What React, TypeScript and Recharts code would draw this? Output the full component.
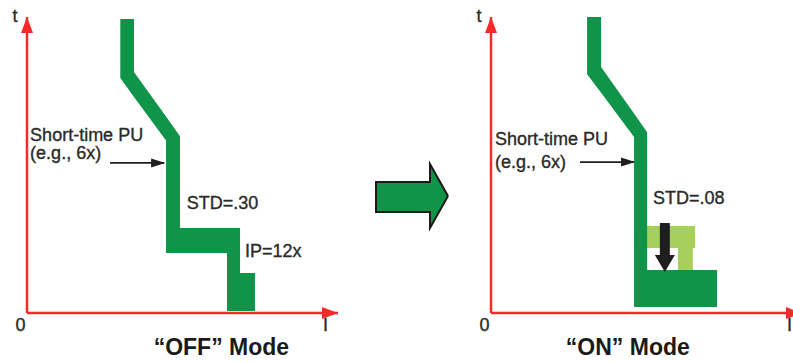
import React from 'react';
import { ComposedChart, Area, Line, Scatter, XAxis, YAxis } from 'recharts';

// ---- data (I = current multiple units, t = time units) ----
const offBand = [
  { I: 30.0, t: [79.4, 99.3] },
  { I: 34.4, t: [73.0, 99.3] },
  { I: 34.4, t: [73.0, 81.4] },
  { I: 44.7, t: [58.3, 66.4] },
  { I: 44.7, t: [20.3, 66.4] },
  { I: 49.2, t: [20.3, 59.7] },
  { I: 49.2, t: [20.3, 28.7] },
  { I: 64.3, t: [20.3, 28.7] },
  { I: 64.3, t: [0.7, 28.7] },
  { I: 68.5, t: [0.7, 28.7] },
  { I: 68.5, t: [0.7, 13.5] },
  { I: 73.3, t: [0.7, 13.5] },
];

const onBand = [
  { I: 30.9, t: [80.7, 100] },
  { I: 35.4, t: [74.4, 100] },
  { I: 35.4, t: [74.4, 83.1] },
  { I: 46.0, t: [59.5, 67.4] },
  { I: 46.0, t: [2.0, 67.4] },
  { I: 50.2, t: [2.0, 61.1] },
  { I: 50.2, t: [2.0, 14.5] },
  { I: 72.7, t: [2.0, 14.5] },
];

const onShiftedBand = [
  { I: 46.0, t: [22.0, 29.4] },
  { I: 60.1, t: [22.0, 29.4] },
  { I: 60.1, t: [14.5, 29.4] },
  { I: 64.9, t: [14.5, 29.4] },
  { I: 64.9, t: [22.0, 29.4] },
  { I: 65.6, t: [22.0, 29.4] },
];

const stdShiftArrow = [
  { I: 55.9, t: 30.4 },
  { I: 55.9, t: 19.6 },
];

const offPuArrow = [
  { I: 26.7, t: 50.7 },
  { I: 44.1, t: 50.7 },
];
const onPuArrow = [
  { I: 28.6, t: 51.0 },
  { I: 46.0, t: 51.0 },
];

const offNotes = [
  { I: 1.0, t: 58.1, text: 'Short-time PU' },
  { I: 1.0, t: 51.9, text: '(e.g., 6x)' },
  { I: 51.4, t: 35.1, text: 'STD=.30' },
  { I: 70.1, t: 18.9, text: 'IP=12x' },
];
const onNotes = [
  { I: 1.3, t: 56.8, text: 'Short-time PU' },
  { I: 1.3, t: 49.0, text: '(e.g., 6x)' },
  { I: 52.1, t: 36.8, text: 'STD=.08' },
];

const xTicks = [0, 100];
const xTickLabels = ['0', 'I'];
const yTicks = [100];
const yTickLabels = ['t'];
const xAxisEnd = [{ I: 100, t: 0 }];
const yAxisEnd = [{ I: 0, t: 100 }];

const offTitle = { text: '\u201COFF\u201D Mode', I: 62.5 };
const onTitle = { text: '\u201CON\u201D Mode', I: 44.0 };

// big transition arrow (x along, v range)
const bigArrow = [
  { x: 0, v: [32, 32] },
  { x: 0, v: [16, 46] },
  { x: 54, v: [16, 46] },
  { x: 54, v: [0, 64] },
  { x: 72, v: [32, 32] },
];

// ---- styles ----
const FONT = '"Liberation Sans", Arial, Helvetica, sans-serif';
const RED = '#f52a2a';
const DARK = '#10944a';
const LIGHT = '#a6d05c';
const INK = '#1e1e1e';
const TEXT = '#2a2a2a';

const NoteShape = (p: any) => (
  <text x={p.cx} y={p.cy} fontSize={18} fill={TEXT} stroke={TEXT} strokeWidth={0.35} fontFamily={FONT}>
    {p.payload.text}
  </text>
);

const RightHead = (p: any) => (
  <path d={`M${p.cx},${p.cy} L${p.cx - 16},${p.cy - 6} L${p.cx - 16},${p.cy + 6} Z`} fill={RED} />
);
const UpHead = (p: any) => (
  <path d={`M${p.cx},${p.cy} L${p.cx - 6},${p.cy + 16} L${p.cx + 6},${p.cy + 16} Z`} fill={RED} />
);

const thinHead = (p: any) =>
  p.index === 1 ? (
    <path key={`h${p.index}`} d={`M${p.cx + 1},${p.cy} L${p.cx - 13},${p.cy - 4.5} L${p.cx - 13},${p.cy + 4.5} Z`} fill={INK} />
  ) : (
    <g key={`h${p.index}`} />
  );

const downHead = (p: any) =>
  p.index === 1 ? (
    <path key={`d${p.index}`} d={`M${p.cx - 10},${p.cy} L${p.cx + 10},${p.cy} L${p.cx},${p.cy + 17} Z`} fill={INK} />
  ) : (
    <g key={`d${p.index}`} />
  );

const XTick = (p: any) => {
  const i = xTicks.indexOf(p.payload.value);
  const dx = i === 0 ? -6.5 : -12.5;
  return (
    <text x={p.x + dx} y={p.y + 18} textAnchor="middle" fontSize={18} fill={TEXT} stroke={TEXT} strokeWidth={0.35} fontFamily={FONT}>
      {xTickLabels[i]}
    </text>
  );
};
const YTick = (p: any) => {
  const i = yTicks.indexOf(p.payload.value);
  return (
    <text x={p.x - 12} y={p.y + 5} textAnchor="middle" fontSize={18} fill={TEXT} stroke={TEXT} strokeWidth={0.35} fontFamily={FONT}>
      {yTickLabels[i]}
    </text>
  );
};

const titleLabel = (title: { text: string; I: number }) => (props: any) => {
  const vb = props.viewBox || {};
  return (
    <text
      x={vb.x + (vb.width * title.I) / 100}
      y={vb.y + 42}
      textAnchor="middle"
      fontSize={23}
      fontWeight="bold"
      fill="#1a1a1a"
      fontFamily={FONT}
    >
      {title.text}
    </text>
  );
};

type PanelProps = {
  width: number;
  marginRight: number;
  band: any[];
  shifted?: any[];
  puArrow: any[];
  drop?: any[];
  notes: any[];
  title: { text: string; I: number };
};

const Panel = ({ width, marginRight, band, shifted, puArrow, drop, notes, title }: PanelProps) => (
  <ComposedChart width={width} height={362} margin={{ top: 17, right: marginRight, bottom: 0, left: 0 }}>
    <XAxis
      type="number"
      dataKey="I"
      domain={[0, 100]}
      ticks={xTicks}
      height={49}
      tickSize={0}
      tickMargin={0}
      tickLine={false}
      axisLine={{ stroke: RED, strokeWidth: 2.5 }}
      tick={XTick}
      interval={0}
      label={titleLabel(title)}
    />
    <YAxis
      type="number"
      domain={[0, 100]}
      ticks={yTicks}
      width={27}
      tickSize={0}
      tickMargin={0}
      tickLine={false}
      axisLine={{ stroke: RED, strokeWidth: 2.5 }}
      tick={YTick}
      interval={0}
    />
    {shifted && (
      <Area
        data={shifted}
        dataKey="t"
        type="linear"
        fill={LIGHT}
        fillOpacity={1}
        stroke="none"
        isAnimationActive={false}
        activeDot={false}
      />
    )}
    <Area
      data={band}
      dataKey="t"
      type="linear"
      fill={DARK}
      fillOpacity={1}
      stroke="none"
      isAnimationActive={false}
      activeDot={false}
    />
    {drop && (
      <Line
        data={drop}
        dataKey="t"
        type="linear"
        stroke={INK}
        strokeWidth={10}
        dot={downHead}
        activeDot={false}
        isAnimationActive={false}
      />
    )}
    <Line
      data={puArrow}
      dataKey="t"
      type="linear"
      stroke={INK}
      strokeWidth={1.8}
      dot={thinHead}
      activeDot={false}
      isAnimationActive={false}
    />
    <Scatter data={notes} dataKey="t" shape={NoteShape} isAnimationActive={false} />
    <Scatter data={xAxisEnd} dataKey="t" shape={RightHead} isAnimationActive={false} />
    <Scatter data={yAxisEnd} dataKey="t" shape={UpHead} isAnimationActive={false} />
  </ComposedChart>
);

export default function App() {
  return (
    <div
      style={{
        position: 'fixed',
        left: 0,
        top: 0,
        width: 793,
        height: 362,
        overflow: 'hidden',
        background: '#fff',
      }}
    >
      <div style={{ position: 'absolute', left: 0, top: 0 }}>
        <Panel width={360} marginRight={22} band={offBand} puArrow={offPuArrow} notes={offNotes} title={offTitle} />
      </div>
      <div style={{ position: 'absolute', left: 370, top: 158 }}>
        <ComposedChart width={85} height={76} margin={{ top: 6, right: 7, bottom: 6, left: 6 }}>
          <XAxis type="number" dataKey="x" domain={[0, 72]} hide />
          <YAxis type="number" domain={[0, 64]} hide />
          <Area
            data={bigArrow}
            dataKey="v"
            type="linear"
            fill={DARK}
            fillOpacity={1}
            stroke="#1a1a1a"
            strokeWidth={2}
            strokeLinejoin="miter"
            isAnimationActive={false}
            activeDot={false}
          />
        </ComposedChart>
      </div>
      <div style={{ position: 'absolute', left: 464, top: 0 }}>
        <Panel
          width={340}
          marginRight={2}
          band={onBand}
          shifted={onShiftedBand}
          puArrow={onPuArrow}
          drop={stdShiftArrow}
          notes={onNotes}
          title={onTitle}
        />
      </div>
    </div>
  );
}
